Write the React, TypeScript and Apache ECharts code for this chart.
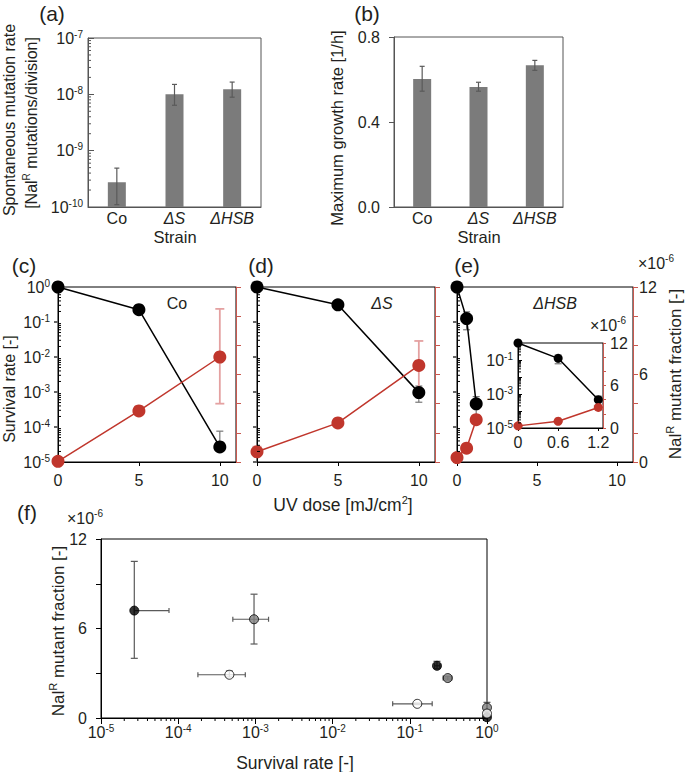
import React, { useEffect, useRef } from 'react';
import * as echarts from 'echarts';

const FONT = '"Liberation Sans", Arial, Helvetica, sans-serif';
const TXT = '#231f20';
const RED = '#c0362c';
const RED_AXIS = '#c8584f';
const PINK = '#e4a1a1';
const BAR = '#7b7b7b';
const ERR = '#5a5a5a';

// (a) spontaneous mutation rate
const strains = ['Co', 'ΔS', 'ΔHSB'];
const mutationRate = [2.75e-10, 1.0e-8, 1.23e-8];
const mutationRateLow = [1.1e-10, 6.4e-9, 8.9e-9];
const mutationRateHigh = [4.9e-10, 1.5e-8, 1.65e-8];
// (b) maximum growth rate
const growthRate = [0.602, 0.565, 0.667];
const growthRateLow = [0.545, 0.545, 0.643];
const growthRateHigh = [0.662, 0.587, 0.69];

// (c) Co
const doseCo = [0, 5, 10];
const survivalCo = [1, 0.225, 2.7e-5];
const survivalCoLow = [1, 0.21, 2.7e-5];
const survivalCoHigh = [1, 0.245, 7.6e-5];
const mutantCo = [0.05, 3.5, 7.2];
const mutantCoLow = [0.05, 3.3, 4.0];
const mutantCoHigh = [0.05, 3.8, 10.5];

// (d) ΔS
const doseS = [0, 5, 10];
const survivalS = [1, 0.31, 9.6e-4];
const survivalSLow = [1, 0.27, 5.1e-4];
const survivalSHigh = [1, 0.35, 1.48e-3];
const mutantS = [0.7, 2.68, 6.62];
const mutantSLow = [0.5, 2.55, 4.96];
const mutantSHigh = [1.05, 2.8, 8.3];

// (e) ΔHSB
const doseHSB = [0, 0.6, 1.2];
const survivalHSB = [1, 0.125, 4.6e-4];
const survivalHSBLow = [1, 0.06, 1.8e-4];
const survivalHSBHigh = [1, 0.195, 7.4e-4];
const mutantHSB = [0.3, 0.95, 2.9];
const mutantHSBLow = [0.25, 0.9, 2.75];
const mutantHSBHigh = [0.35, 1.0, 3.15];

const supRichAxis = {
  b: { fontSize: 16, fontFamily: FONT, color: TXT, lineHeight: 18 },
  s: { fontSize: 10, fontFamily: FONT, color: TXT, lineHeight: 12, verticalAlign: 'top' },
};
const catRich = {
  n: { fontSize: 16, fontFamily: FONT, color: TXT, lineHeight: 16 },
  i: { fontSize: 16, fontFamily: FONT, color: TXT, lineHeight: 16, fontStyle: 'italic' },
};
const makeRich = (size: number) => ({
  n: { fontSize: size, fontFamily: FONT, fill: TXT, color: TXT, lineHeight: size + 4 },
  s: { fontSize: Math.round(size * 0.63), fontFamily: FONT, fill: TXT, color: TXT, lineHeight: Math.round(size * 0.75), verticalAlign: 'top' },
});

const logLabel = (v: number) => `{b|10}{s|${Math.round(Math.log10(v))}}`;
const catLabel = (v: string) => (v === 'Co' ? `{n|${v}}` : `{i|${v}}`);

function logMinor(minExp: number, maxExp: number) {
  const out: number[] = [];
  for (let e = minExp; e < maxExp; e++) for (let m = 2; m <= 9; m++) out.push(m * Math.pow(10, e));
  return out;
}

const axisLine = (color: string) => ({ show: true, onZero: false, lineStyle: { color, width: 1 } });

function yMinor(xi: number, yi: number, minExp: number, maxExp: number, len: number, color: string) {
  return {
    type: 'custom', xAxisIndex: xi, yAxisIndex: yi, silent: true, z: 6, clip: false,
    data: logMinor(minExp, maxExp).map((v) => [0, v]),
    renderItem: (params: any, api: any) => {
      const p = api.coord([api.value(0), api.value(1)]);
      const cs = params.coordSys;
      return { type: 'line', shape: { x1: cs.x, y1: p[1], x2: cs.x + len, y2: p[1] }, style: { stroke: color, lineWidth: 1 } };
    },
  };
}
function xMinor(xi: number, yi: number, minExp: number, maxExp: number, len: number, color: string) {
  return {
    type: 'custom', xAxisIndex: xi, yAxisIndex: yi, silent: true, z: 6, clip: false,
    data: logMinor(minExp, maxExp).map((v) => [v, 0]),
    renderItem: (params: any, api: any) => {
      const p = api.coord([api.value(0), api.value(1)]);
      const cs = params.coordSys;
      const yb = cs.y + cs.height;
      return { type: 'line', shape: { x1: p[0], y1: yb, x2: p[0], y2: yb + len }, style: { stroke: color, lineWidth: 1 } };
    },
  };
}
function vErr(xi: number, yi: number, xs: number[], lo: number[], hi: number[], color: string, cap: number, width = 1.2) {
  return {
    type: 'custom', xAxisIndex: xi, yAxisIndex: yi, silent: true, z: 3, clip: false,
    data: xs.map((x, i) => [x, lo[i], hi[i]]),
    renderItem: (params: any, api: any) => {
      const a = api.coord([api.value(0), api.value(1)]);
      const b = api.coord([api.value(0), api.value(2)]);
      const st = { stroke: color, lineWidth: width };
      return {
        type: 'group',
        children: [
          { type: 'line', shape: { x1: a[0], y1: a[1], x2: b[0], y2: b[1] }, style: st },
          { type: 'line', shape: { x1: a[0] - cap, y1: a[1], x2: a[0] + cap, y2: a[1] }, style: st },
          { type: 'line', shape: { x1: b[0] - cap, y1: b[1], x2: b[0] + cap, y2: b[1] }, style: st },
        ],
      };
    },
  };
}
function xyErr(xi: number, yi: number, rows: number[][]) {
  return {
    type: 'custom', xAxisIndex: xi, yAxisIndex: yi, silent: true, z: 3, clip: false,
    data: rows,
    renderItem: (params: any, api: any) => {
      const x = api.value(0), y = api.value(1);
      const xl = api.coord([api.value(2), y]);
      const xh = api.coord([api.value(3), y]);
      const yl = api.coord([x, api.value(4)]);
      const yh = api.coord([x, api.value(5)]);
      const st = { stroke: ERR, lineWidth: 1.2 };
      return {
        type: 'group',
        children: [
          { type: 'line', shape: { x1: xl[0], y1: xl[1], x2: xh[0], y2: xh[1] }, style: st },
          { type: 'line', shape: { x1: xl[0], y1: xl[1] - 2.5, x2: xl[0], y2: xl[1] + 2.5 }, style: st },
          { type: 'line', shape: { x1: xh[0], y1: xh[1] - 2.5, x2: xh[0], y2: xh[1] + 2.5 }, style: st },
          { type: 'line', shape: { x1: yl[0], y1: yl[1], x2: yh[0], y2: yh[1] }, style: st },
          { type: 'line', shape: { x1: yl[0] - 3.5, y1: yl[1], x2: yl[0] + 3.5, y2: yl[1] }, style: st },
          { type: 'line', shape: { x1: yh[0] - 3.5, y1: yh[1], x2: yh[0] + 3.5, y2: yh[1] }, style: st },
        ],
      };
    },
  };
}

function doseX(gi: number, showLabels: boolean) {
  return {
    gridIndex: gi, type: 'value', min: 0, max: 11, interval: 5,
    axisLine: axisLine('#000'),
    axisTick: { show: true, length: 4, lineStyle: { color: '#000' } },
    axisLabel: { show: showLabels, formatter: (v: number) => (v % 5 === 0 ? String(v) : ''), showMaxLabel: false, fontSize: 16, fontFamily: FONT, color: TXT, margin: 10 },
    splitLine: { show: false },
  };
}
function survY(gi: number, showLabels: boolean) {
  return {
    gridIndex: gi, type: 'log', logBase: 10, min: 1e-5, max: 1,
    axisLine: axisLine('#000'),
    axisTick: { show: true, length: 4, lineStyle: { color: '#666', width: 2 } },
    axisLabel: { show: showLabels, formatter: logLabel, rich: supRichAxis, margin: 8 },
    splitLine: { show: false },
  };
}
function fracY(gi: number, showLabels: boolean) {
  return {
    gridIndex: gi, type: 'value', position: 'right', min: 0, max: 12, interval: 2,
    axisLine: axisLine(RED_AXIS),
    axisTick: { show: true, length: 5, lineStyle: { color: RED_AXIS } },
    axisLabel: { show: showLabels, formatter: (v: number) => (v % 6 === 0 ? String(v) : ''), fontSize: 16, fontFamily: FONT, color: TXT, margin: 6 },
    splitLine: { show: false },
  };
}

function panelSeries(xi: number, yl: number, yr: number, dose: number[], surv: number[], sLo: number[], sHi: number[], mut: number[], mLo: number[], mHi: number[], size: number) {
  return [
    vErr(xi, yl, dose, sLo, sHi, '#777', 3.5),
    vErr(xi, yr, dose, mLo, mHi, PINK, 4.5, 1.8),
    {
      type: 'line', xAxisIndex: xi, yAxisIndex: yl, clip: false, z: 5,
      data: dose.map((d, i) => [d, surv[i]]),
      symbol: 'circle', symbolSize: size, showSymbol: true,
      lineStyle: { color: '#000', width: 1.5 }, itemStyle: { color: '#000' },
    },
    {
      type: 'line', xAxisIndex: xi, yAxisIndex: yr, clip: false, z: 5,
      data: dose.map((d, i) => [d, mut[i]]),
      symbol: 'circle', symbolSize: size, showSymbol: true,
      lineStyle: { color: RED, width: 1.5 }, itemStyle: { color: RED },
    },
  ];
}

const fRows = (surv: number[], lo: number[], hi: number[], mut: number[], mlo: number[], mhi: number[]) =>
  surv.map((s, i) => [s, mut[i], lo[i], hi[i], mlo[i], mhi[i]]);

function txt(x: number, y: number, text: string, opt: any = {}) {
  const size = opt.size || 16;
  return {
    type: 'text', x, y, rotation: opt.rot || 0, silent: true, z: 100,
    style: {
      text, fontSize: size, fontFamily: FONT, fontStyle: opt.italic ? 'italic' : 'normal',
      fill: TXT, align: 'center', verticalAlign: 'middle', textAlign: 'center', textVerticalAlign: 'middle',
      rich: makeRich(size),
    },
  };
}

function buildOption() {
  const gridBase = { show: true, borderWidth: 1, backgroundColor: 'transparent', outerBoundsMode: 'none', containLabel: false };
  const grid = [
    { ...gridBase, left: 88, top: 38, width: 173, height: 169, borderColor: '#555' },
    { ...gridBase, left: 394, top: 37, width: 169, height: 170, borderColor: '#555' },
    { ...gridBase, left: 58, top: 287, width: 178, height: 175, borderColor: '#000' },
    { ...gridBase, left: 257, top: 287, width: 178, height: 175, borderColor: '#000' },
    { ...gridBase, left: 457, top: 287, width: 176, height: 175, borderColor: '#000' },
    { ...gridBase, left: 518, top: 343, width: 85, height: 85, borderColor: '#000', backgroundColor: '#fff' },
    { ...gridBase, left: 101, top: 539, width: 386, height: 179, borderColor: '#000' },
  ];
  const catX = (gi: number) => ({
    gridIndex: gi, type: 'category', data: strains,
    axisLine: axisLine('#555'), axisTick: { show: false },
    axisLabel: { interval: 0, hideOverlap: false, formatter: catLabel, rich: catRich, margin: 3 },
  });
  const xAxis: any[] = [
    catX(0), catX(1), doseX(2, true), doseX(3, true), doseX(4, true),
    {
      gridIndex: 5, type: 'value', min: 0, max: 1.27, interval: 0.6,
      axisLine: axisLine('#000'), axisTick: { show: true, length: 3, lineStyle: { color: '#000' } },
      axisLabel: {
        showMaxLabel: false, fontSize: 16, fontFamily: FONT, color: TXT, margin: 6,
        formatter: (v: number) => (v === 0 ? '0' : Math.abs(v / 0.6 - Math.round(v / 0.6)) < 1e-6 ? v.toFixed(1) : ''),
      },
      splitLine: { show: false },
    },
    {
      gridIndex: 6, type: 'log', logBase: 10, min: 1e-5, max: 1,
      axisLine: axisLine('#000'), axisTick: { show: true, length: 6, lineStyle: { color: '#000' } },
      axisLabel: { formatter: logLabel, rich: supRichAxis, margin: 5 },
      splitLine: { show: false },
    },
  ];
  const yAxis: any[] = [
    {
      gridIndex: 0, type: 'log', logBase: 10, min: 1e-10, max: 1e-7,
      axisLine: axisLine('#555'), axisTick: { show: true, inside: true, length: 6, lineStyle: { color: '#555' } },
      axisLabel: { formatter: logLabel, rich: supRichAxis, margin: 5 }, splitLine: { show: false },
    },
    {
      gridIndex: 1, type: 'value', min: 0, max: 0.8, interval: 0.4,
      axisLine: axisLine('#555'), axisTick: { show: true, length: 5, lineStyle: { color: '#555' } },
      axisLabel: { formatter: (v: number) => v.toFixed(1), fontSize: 16, fontFamily: FONT, color: TXT, margin: 14 },
      splitLine: { show: false },
    },
    survY(2, true), fracY(2, false),
    survY(3, false), fracY(3, false),
    survY(4, false), fracY(4, true),
    {
      gridIndex: 5, type: 'log', logBase: 10, min: 1e-5, max: 1,
      axisLine: axisLine('#000'), axisTick: { show: true, inside: true, length: 4, lineStyle: { color: '#000' } },
      axisLabel: {
        formatter: (v: number) => { const e = Math.round(Math.log10(v)); return e % 2 === 0 ? '' : logLabel(v); },
        rich: supRichAxis, margin: 5,
      },
      splitLine: { show: false },
    },
    {
      ...fracY(5, true), axisTick: { show: true, length: 3, lineStyle: { color: RED_AXIS } },
      axisLabel: { formatter: (v: number) => (v % 6 === 0 ? String(v) : ''), fontSize: 16, fontFamily: FONT, color: TXT, margin: 7 },
    },
    {
      gridIndex: 6, type: 'value', min: 0, max: 12, interval: 3,
      axisLine: axisLine('#000'), axisTick: { show: true, length: 5, lineStyle: { color: '#000' } },
      axisLabel: { formatter: (v: number) => (v % 6 === 0 ? String(v) : ''), fontSize: 16, fontFamily: FONT, color: TXT, margin: 14 },
      splitLine: { show: false },
    },
  ];

  const series: any[] = [
    // (a)
    {
      type: 'custom', xAxisIndex: 0, yAxisIndex: 0, z: 2, clip: false,
      data: strains.map((s, i) => [i, mutationRate[i]]),
      renderItem: (params: any, api: any) => {
        const top = api.coord([api.value(0), api.value(1)]);
        const cs = params.coordSys;
        const w = 18;
        return { type: 'rect', shape: { x: top[0] - w / 2, y: top[1], width: w, height: cs.y + cs.height - top[1] }, style: { fill: BAR } };
      },
    },
    vErr(0, 0, strains.map((s, i) => i), mutationRateLow, mutationRateHigh, ERR, 2.5),
    yMinor(0, 0, -10, -7, 3, '#555'),
    // (b)
    {
      type: 'bar', xAxisIndex: 1, yAxisIndex: 1, barWidth: 18, z: 2,
      data: growthRate, itemStyle: { color: BAR },
    },
    vErr(1, 1, strains.map((s, i) => i), growthRateLow, growthRateHigh, ERR, 2.5),
    // (c)
    yMinor(2, 2, -5, 0, 3, '#000'),
    ...panelSeries(2, 2, 3, doseCo, survivalCo, survivalCoLow, survivalCoHigh, mutantCo, mutantCoLow, mutantCoHigh, 13),
    // (d)
    yMinor(3, 4, -5, 0, 3, '#000'),
    ...panelSeries(3, 4, 5, doseS, survivalS, survivalSLow, survivalSHigh, mutantS, mutantSLow, mutantSHigh, 13),
    // (e)
    yMinor(4, 6, -5, 0, 3, '#000'),
    ...panelSeries(4, 6, 7, doseHSB, survivalHSB, survivalHSBLow, survivalHSBHigh, mutantHSB, mutantHSBLow, mutantHSBHigh, 13),
    // inset
    yMinor(5, 8, -5, 0, 3, '#000'),
    ...panelSeries(5, 8, 9, doseHSB, survivalHSB, survivalHSBLow, survivalHSBHigh, mutantHSB, mutantHSBLow, mutantHSBHigh, 9),
    // (f)
    xMinor(6, 10, -5, 0, 3, '#000'),
    xyErr(6, 10, [
      ...fRows(survivalCo, survivalCoLow, survivalCoHigh, mutantCo, mutantCoLow, mutantCoHigh),
      ...fRows(survivalS, survivalSLow, survivalSHigh, mutantS, mutantSLow, mutantSHigh),
      ...fRows(survivalHSB, survivalHSBLow, survivalHSBHigh, mutantHSB, mutantHSBLow, mutantHSBHigh),
    ]),
    {
      type: 'scatter', xAxisIndex: 6, yAxisIndex: 10, z: 5, clip: false, symbolSize: 9,
      data: survivalCo.map((s, i) => [s, mutantCo[i]]),
      itemStyle: { color: '#000', borderColor: '#000', borderWidth: 1 },
    },
    {
      type: 'scatter', xAxisIndex: 6, yAxisIndex: 10, z: 6, clip: false, symbolSize: 9,
      data: survivalS.map((s, i) => [s, mutantS[i]]),
      itemStyle: { color: '#808080', borderColor: '#000', borderWidth: 1 },
    },
    {
      type: 'scatter', xAxisIndex: 6, yAxisIndex: 10, z: 7, clip: false, symbolSize: 9,
      data: survivalHSB.map((s, i) => [s, mutantHSB[i]]),
      itemStyle: { color: '#fff', borderColor: '#000', borderWidth: 1 },
    },
  ];

  const graphic: any[] = [
    txt(52, 13, '(a)', { size: 21 }),
    txt(367, 13, '(b)', { size: 21 }),
    txt(24, 265, '(c)', { size: 21 }),
    txt(261, 265, '(d)', { size: 21 }),
    txt(467, 265, '(e)', { size: 21 }),
    txt(27, 512, '(f)', { size: 21 }),
    txt(9, 120, 'Spontaneous mutation rate', { rot: Math.PI / 2 }),
    txt(31, 123, '{n|[Nal}{s|R}{n| mutations/division]}', { rot: Math.PI / 2 }),
    txt(337, 128, 'Maximum growth rate [1/h]', { rot: Math.PI / 2, size: 16.5 }),
    txt(175, 237, 'Strain', { size: 16.5 }),
    txt(479, 237, 'Strain', { size: 16.5 }),
    txt(9, 389, 'Survival rate [-]', { rot: Math.PI / 2 }),
    txt(177, 303, 'Co'),
    txt(382, 303, 'ΔS', { italic: true }),
    txt(555, 303, 'ΔHSB', { italic: true }),
    txt(656, 263, '{n|×10}{s|-6}'),
    txt(675, 374, '{n|Nal}{s|R}{n| mutant fraction [-]}', { rot: Math.PI / 2, size: 17 }),
    txt(343, 505, '{n|UV dose [mJ/cm}{s|2}{n|]}', { size: 17.5 }),
    txt(608, 325, '{n|×10}{s|-6}'),
    txt(85, 518, '{n|×10}{s|-6}'),
    txt(58, 631, '{n|Nal}{s|R}{n| mutant fraction [-]}', { rot: Math.PI / 2, size: 17 }),
    txt(295, 763, 'Survival rate [-]', { size: 17.5 }),
  ];

  return {
    animation: false,
    backgroundColor: '#fff',
    textStyle: { fontFamily: FONT, color: TXT },
    grid, xAxis, yAxis, series, graphic,
  };
}

export default function App() {
  const ref = useRef<HTMLDivElement>(null);
  useEffect(() => {
    if (!ref.current) return;
    const chart = echarts.init(ref.current, null, { renderer: 'svg' });
    chart.setOption(buildOption() as any);
    return () => chart.dispose();
  }, []);
  return <div ref={ref} style={{ position: 'fixed', left: 0, top: 0, width: 685, height: 772, background: '#fff' }} />;
}
